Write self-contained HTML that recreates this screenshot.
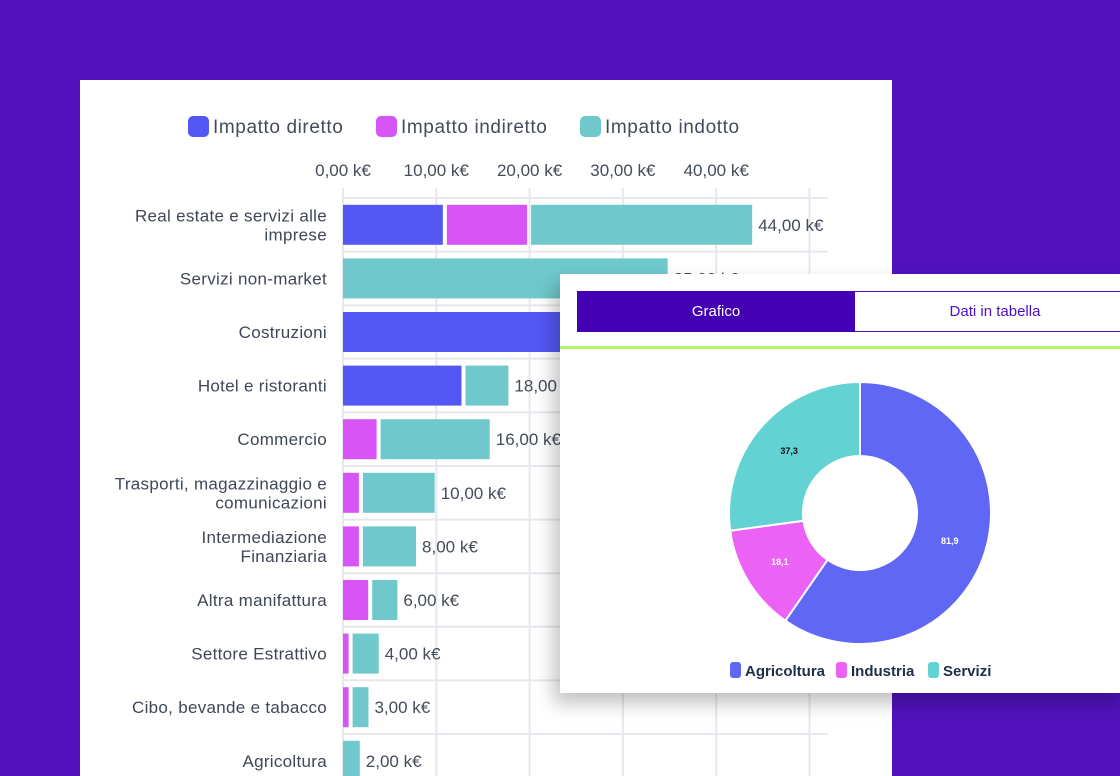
<!DOCTYPE html>
<html><head><meta charset="utf-8"><style>
body{margin:0;width:1120px;height:776px;overflow:hidden;background:#5112bd;font-family:"Liberation Sans",sans-serif;position:relative}
#card{position:absolute;left:80px;top:80px;width:812px;height:696px;background:#fff;overflow:hidden}
#pop{position:absolute;left:560px;top:274px;width:570px;height:419px;background:#fff;box-shadow:-6px 10px 18px rgba(0,0,0,.25)}
.tab{position:absolute;top:17px;height:41px;line-height:41px;text-align:center;font-size:15px}
</style></head><body>
<div id="card">
<svg id="bar" width="812" height="700"></svg>
</div>
<div id="pop">
<div class="tab" style="left:17px;width:278px;background:#4400b3;color:#fff">Grafico</div>
<div class="tab" style="left:295px;width:280px;height:39px;line-height:39px;border:1px solid #4a10c8;border-left:none;color:#4a10c8;box-sizing:content-box">Dati in tabella</div>
<div style="position:absolute;left:0;top:72px;width:570px;height:3px;background:#b6f36a"></div>
<svg id="donut" width="570" height="419" style="position:absolute;left:0;top:0"></svg>
</div>
<script>
const cats=["Real estate e servizi alle|imprese","Servizi non-market","Costruzioni","Hotel e ristoranti","Commercio","Trasporti, magazzinaggio e|comunicazioni","Intermediazione|Finanziaria","Altra manifattura","Settore Estrattivo","Cibo, bevande e tabacco","Agricoltura"];
const direct=[10.7,0,40,12.7,0,0,0,0,0,0,0];
const indirect=[8.6,0,0,0,3.6,1.7,1.7,2.7,0.6,0.6,0];
const induced=[23.7,34.8,0,4.6,11.7,7.7,5.7,2.7,2.8,1.7,1.8];
const totals=["44,00 k€","35,00 k€","","18,00 k€","16,00 k€","10,00 k€","8,00 k€","6,00 k€","4,00 k€","3,00 k€","2,00 k€"];
const ticks=[0,10,20,30,40];
const tickLabels=["0,00 k€","10,00 k€","20,00 k€","30,00 k€","40,00 k€"];
const NS="http://www.w3.org/2000/svg";
function mk(p,t,a){const e=document.createElementNS(NS,t);for(const k in a)e.setAttribute(k,a[k]);p.appendChild(e);return e;}
const svg=document.getElementById('bar');
const x0=263,sc=9.33,y0=118,step=53.6,bh=40;
const X=v=>x0+v*sc, Y=i=>y0+i*step;
for(let i=0;i<=11;i++){const l=mk(svg,'line',{x1:x0,x2:748,y1:Y(i),y2:Y(i),stroke:'#e6e8ee','stroke-width':2});
}
ticks.concat([50]).forEach((t,i)=>{const l=mk(svg,'line',{x1:X(t),x2:X(t),y1:108,y2:700,stroke:'#e6e8ee','stroke-width':2});

if(i<tickLabels.length){const tx=mk(svg,'text',{x:X(t),y:96,'text-anchor':'middle','font-size':17,fill:'#444c5a'});tx.textContent=tickLabels[i];
}});
const cols=['#5358f5','#d754f7','#6fc9cc'];
const leg=[["Impatto diretto",108],["Impatto indiretto",296],["Impatto indotto",500]];
leg.forEach((l,i)=>{const r=mk(svg,'rect',{x:l[1],y:36,width:21,height:21,rx:5,fill:cols[i]});

const t=mk(svg,'text',{x:l[1]+25,y:53,'font-size':19,'letter-spacing':0.6,fill:'#444c5a'});t.textContent=l[0];
});
cats.forEach((c,i)=>{const cy=Y(i)+step/2;const parts=c.split('|');
parts.forEach((p,j)=>{const t=mk(svg,'text',{x:247,y:cy+6+(parts.length>1?(j-0.5)*19:0),'text-anchor':'end','font-size':17,'letter-spacing':0.3,fill:'#3f4756'});t.textContent=p;
});
let end=X(0),first=true;
[direct,indirect,induced].forEach((s,k)=>{const v=s[i];if(v<=0)return;const xs=first?end:end+4;const w=v*sc;first=false;
const r=mk(svg,'rect',{x:xs,y:cy-bh/2,width:w,height:bh,fill:cols[k]});
end=xs+w;});
const t=mk(svg,'text',{x:end+6,y:cy+6,'font-size':17,fill:'#444c5a'});t.textContent=totals[i];
});

const dLabels=["Agricoltura","Industria","Servizi"];
const dValues=[81.9,18.1,37.3];
const dText=["81,9","18,1","37,3"];
const dCols=['#6167f5','#ec62f5','#62d2d3'];
const dsvg=document.getElementById('donut');
const cx=300,cy=239,R=131,r0=57,tot=dValues.reduce((a,b)=>a+b,0);
let a=0;
dValues.forEach((v,i)=>{const a1=a,a2=a+v/tot*2*Math.PI;a=a2;
const P=(rr,an)=>[cx+rr*Math.sin(an),cy-rr*Math.cos(an)];const lg=a2-a1>Math.PI?1:0;
const p1=P(R,a1),p2=P(R,a2),p3=P(r0,a2),p4=P(r0,a1);
const p=mk(dsvg,'path',{d:`M${p1}A${R},${R} 0 ${lg} 1 ${p2}L${p3}A${r0},${r0} 0 ${lg} 0 ${p4}Z`,fill:dCols[i],stroke:'#fff','stroke-width':2});

const m=(a1+a2)/2,lp=P(94,m);const t=mk(dsvg,'text',{x:lp[0],y:lp[1]+3,'text-anchor':'middle','font-size':9,'font-weight':'bold',fill:i==2?'#111':'#fff'});t.textContent=dText[i];
});
const lx=[170,276,368];
dLabels.forEach((l,i)=>{const r=mk(dsvg,'rect',{x:lx[i],y:388,width:11,height:16,rx:3,fill:dCols[i]});

const t=mk(dsvg,'text',{x:lx[i]+15,y:402,'font-size':15,'font-weight':'bold',fill:'#1d2f4a'});t.textContent=l;
});
</script>
</body></html>
